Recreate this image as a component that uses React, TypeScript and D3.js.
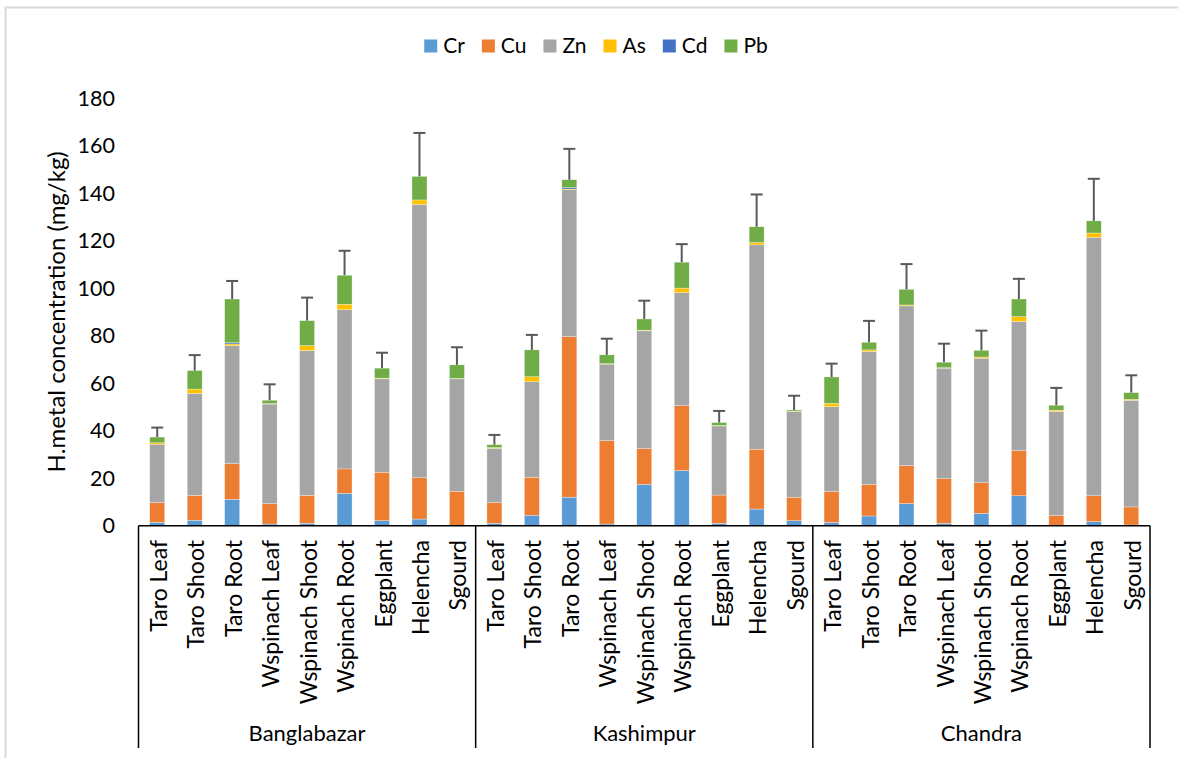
import React, { useEffect, useRef } from "react";
import * as d3 from "d3";

const groups = ["Banglabazar", "Kashimpur", "Chandra"];
const samples = ["Taro Leaf", "Taro Shoot", "Taro Root", "Wspinach Leaf", "Wspinach Shoot", "Wspinach Root", "Eggplant", "Helencha", "Sgourd"];
const metals = ["Cr", "Cu", "Zn", "As", "Cd", "Pb"];
const metalColors = ["#5B9BD5", "#ED7D31", "#A5A5A5", "#FFC000", "#4472C4", "#70AD47"];

// values per bar, order: Banglabazar x9, Kashimpur x9, Chandra x9
const Cr = [1.4, 2.3, 11.1, 0.7, 1.0, 13.6, 2.1, 2.8, 0.0, 1.0, 4.4, 12.0, 0.7, 17.4, 23.2, 1.0, 7.0, 2.1, 1.4, 4.1, 9.3, 1.0, 5.2, 12.6, 0.2, 1.7, 0.3];
const Cu = [8.3, 10.5, 15.0, 8.6, 11.8, 10.3, 20.4, 17.4, 14.5, 8.7, 16.0, 67.6, 35.1, 15.0, 27.3, 11.9, 25.2, 9.9, 13.1, 13.2, 16.0, 18.8, 12.9, 19.0, 4.2, 10.9, 7.6];
const Zn = [24.6, 42.9, 49.7, 41.9, 60.9, 67.0, 39.3, 115.0, 47.3, 22.9, 40.2, 61.8, 32.2, 49.6, 47.6, 29.1, 86.0, 36.0, 35.6, 56.0, 67.2, 46.5, 52.4, 54.3, 43.6, 108.8, 44.9];
const As = [0.6, 1.8, 0.7, 0.2, 2.1, 2.3, 0.3, 1.9, 0.2, 0.3, 2.1, 0.3, 0.2, 0.3, 1.9, 0.2, 1.0, 0.2, 1.4, 0.7, 0.4, 0.2, 0.5, 2.1, 0.6, 1.8, 0.4];
const Cd = [0, 0, 0.5, 0, 0, 0, 0, 0, 0, 0, 0, 0.6, 0, 0, 0, 0, 0, 0, 0, 0, 0, 0, 0, 0, 0, 0, 0];
const Pb = [2.4, 7.8, 18.4, 1.4, 10.5, 12.2, 4.2, 9.9, 5.7, 1.2, 11.3, 3.3, 3.7, 4.7, 10.9, 1.2, 6.6, 0.5, 11.1, 3.2, 6.6, 2.3, 2.8, 7.4, 2.1, 5.1, 2.8];
const errorBars = [4.0, 6.5, 7.6, 6.7, 9.7, 10.3, 6.5, 18.3, 7.4, 4.1, 6.3, 13.0, 6.8, 7.7, 7.6, 4.9, 13.6, 6.0, 5.6, 9.0, 10.6, 7.8, 8.3, 8.5, 7.3, 17.7, 7.3];
const yTicks = [0, 20, 40, 60, 80, 100, 120, 140, 160, 180];
const yTitle = "H.metal concentration (mg/kg)";

const W = 1178;
const H = 758;
const FONT = "Lato, 'Open Sans', sans-serif";

export default function App() {
  const ref = useRef<SVGSVGElement | null>(null);

  useEffect(() => {
    const svg = d3.select(ref.current);
    svg.selectAll("*").remove();

    const series = [Cr, Cu, Zn, As, Cd, Pb];
    const rows = groups.flatMap((g, gi) =>
      samples.map((s, si) => {
        const i = gi * samples.length + si;
        const row: any = { key: `${g}|${s}`, group: g, sample: s, err: errorBars[i] };
        metals.forEach((m, mi) => (row[m] = series[mi][i]));
        return row;
      })
    );

    const left = 138.5, right = 1150, top = 98, bottom = 525.7;
    const x = d3.scaleBand<string>().domain(rows.map((r) => r.key)).range([left, right]).paddingInner(0.6).paddingOuter(0.3);
    const y = d3.scaleLinear().domain([0, 180]).range([bottom, top]);
    const color = d3.scaleOrdinal<string, string>().domain(metals).range(metalColors);

    // chart border
    svg.append("rect").attr("x", 5.5).attr("y", 7.5).attr("width", 1190).attr("height", 800)
      .attr("fill", "none").attr("stroke", "#D9D9D9").attr("stroke-width", 2);

    // stacked bars
    const stack = d3.stack<any>().keys(metals);
    const stacked = stack(rows);
    const layers = svg.append("g").selectAll("g").data(stacked).join("g").attr("fill", (d) => color(d.key));
    layers.selectAll("rect").data((d) => d.map((p) => ({ p, key: p.data.key })))
      .join("rect")
      .attr("x", (d) => x(d.key)!)
      .attr("width", x.bandwidth())
      .attr("y", (d) => y(d.p[1]))
      .attr("height", (d) => Math.max(0, y(d.p[0]) - y(d.p[1])))
      .attr("stroke", "#ffffff").attr("stroke-width", 0.5).attr("stroke-opacity", 0.6);

    // error bars
    const eb = svg.append("g").attr("stroke", "#595959").attr("stroke-width", 2);
    rows.forEach((r) => {
      const total = metals.reduce((a, m) => a + r[m], 0);
      const cx = x(r.key)! + x.bandwidth() / 2;
      eb.append("line").attr("x1", cx).attr("x2", cx).attr("y1", y(total)).attr("y2", y(total + r.err));
      eb.append("line").attr("x1", cx - 6).attr("x2", cx + 6).attr("y1", y(total + r.err)).attr("y2", y(total + r.err));
    });

    // y tick labels
    svg.append("g").selectAll("text").data(yTicks).join("text")
      .attr("x", 115).attr("y", (d) => y(d)).attr("dy", "0.35em")
      .attr("text-anchor", "end").attr("font-family", FONT).attr("font-size", 21.5).attr("fill", "#000")
      .text((d) => d);

    // y title
    svg.append("text")
      .attr("transform", `translate(57,${(top + bottom) / 2}) rotate(-90)`)
      .attr("text-anchor", "middle").attr("dy", "0.35em")
      .attr("font-family", FONT).attr("font-size", 24).attr("fill", "#000")
      .text(yTitle);

    // x axis lines
    const axisG = svg.append("g").attr("stroke", "#000").attr("stroke-width", 1.5);
    axisG.append("line").attr("x1", left).attr("x2", right).attr("y1", bottom).attr("y2", bottom);
    const groupW = x.step() * samples.length;
    d3.range(groups.length + 1).forEach((i) => {
      const gx = left + i * groupW;
      axisG.append("line").attr("x1", gx).attr("x2", gx).attr("y1", bottom).attr("y2", 748);
    });

    // category labels
    svg.append("g").selectAll("text").data(rows).join("text")
      .attr("transform", (d) => `translate(${x(d.key)! + x.bandwidth() / 2 + 1.5},540) rotate(-90)`)
      .attr("text-anchor", "end").attr("dy", "0.35em")
      .attr("font-family", FONT).attr("font-size", 23).attr("fill", "#000")
      .text((d) => d.sample);

    // group labels
    svg.append("g").selectAll("text").data(groups).join("text")
      .attr("x", (_d, i) => left + (i + 0.5) * groupW).attr("y", 733).attr("dy", "0.35em")
      .attr("text-anchor", "middle").attr("font-family", FONT).attr("font-size", 22).attr("fill", "#000")
      .text((d) => d);

    // legend
    const lg = svg.append("g");
    let cursor = 0;
    metals.forEach((m, i) => {
      const g = lg.append("g");
      g.append("rect").attr("x", 0).attr("y", 39.5).attr("width", 13).attr("height", 13).attr("fill", metalColors[i]);
      const t = g.append("text").attr("x", 19).attr("y", 46).attr("dy", "0.35em")
        .attr("font-family", FONT).attr("font-size", 21).attr("fill", "#000").text(m);
      const tw = (t.node() as SVGTextElement).getComputedTextLength();
      g.attr("transform", `translate(${cursor},0)`);
      cursor += 19 + tw + 17;
    });
    const totalW = cursor - 17;
    lg.attr("transform", `translate(${596 - totalW / 2},0)`);
  }, []);

  return (
    <svg ref={ref} width={W} height={H} style={{ position: "absolute", left: 0, top: 0, background: "#fff" }} />
  );
}
